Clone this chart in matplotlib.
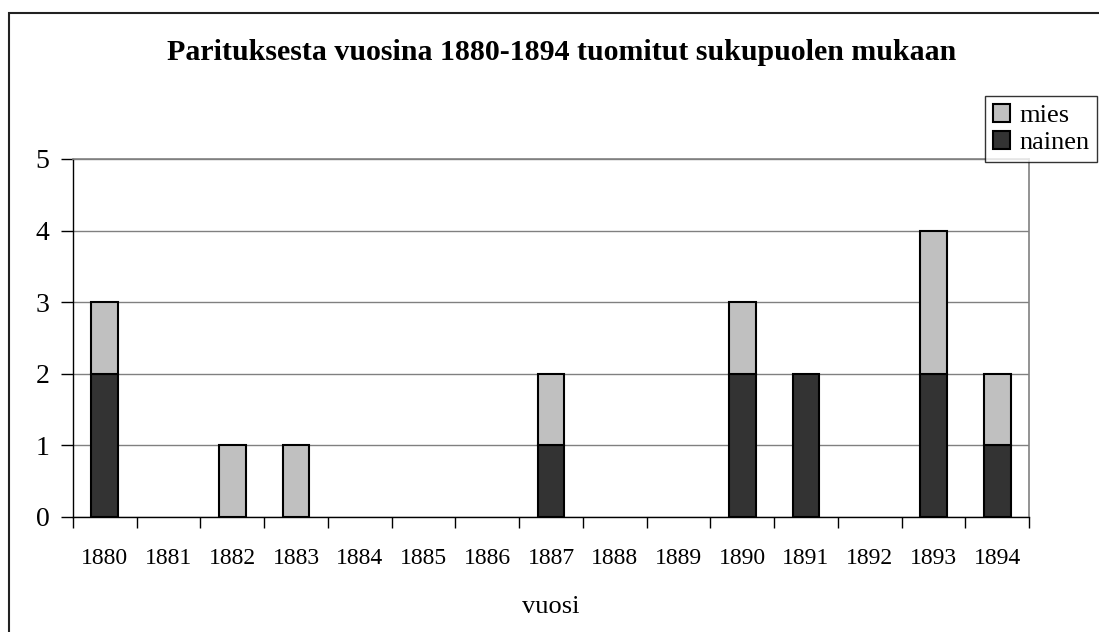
import numpy as np
import matplotlib
matplotlib.use('Agg')
import matplotlib.pyplot as plt
from matplotlib.patches import Rectangle

years = ['1880', '1881', '1882', '1883', '1884', '1885', '1886', '1887',
         '1888', '1889', '1890', '1891', '1892', '1893', '1894']
nainen = [2, 0, 0, 0, 0, 0, 0, 1, 0, 0, 2, 2, 0, 2, 1]
mies = [1, 0, 1, 1, 0, 0, 0, 1, 0, 0, 1, 0, 0, 2, 1]

title = 'Parituksesta vuosina 1880-1894 tuomitut sukupuolen mukaan'

plt.rcParams['font.family'] = ['Liberation Serif', 'DejaVu Serif']

W, H = 1099, 632
fig = plt.figure(figsize=(W / 100, H / 100), dpi=100)
ax = fig.add_axes([73 / W, 1 - 517 / H, (1029 - 73) / W, (517 - 159) / H])

x = np.arange(len(years))
bw = 0.42
# zero-height bars get no outline
lw_n = [1.5 if v else 0 for v in nainen]
lw_m = [1.5 if v else 0 for v in mies]
b1 = ax.bar(x, nainen, bw, color='#333333', edgecolor='black', linewidth=lw_n, label='nainen', zorder=3)
b2 = ax.bar(x, mies, bw, bottom=nainen, color='#c0c0c0', edgecolor='black', linewidth=lw_m, label='mies', zorder=3)

ax.set_xlim(-0.5, len(years) - 0.5)
ax.set_ylim(0, 5)
ax.set_yticks(range(6))
ax.set_xticks(x)
ax.set_xticklabels(years)
ax.set_xticks(np.arange(-0.5, len(years), 1), minor=True)
ax.tick_params(axis='x', which='major', length=0, pad=22, labelsize=17)
ax.tick_params(axis='x', which='minor', length=8, width=1, direction='out', color='black')
ax.tick_params(axis='y', length=9, width=1, direction='out', labelsize=20, pad=8, color='black')

ax.grid(axis='y', color='#808080', linewidth=1, zorder=0)
ax.set_axisbelow(True)
for s in ['top', 'right']:
    ax.spines[s].set_color('#808080')
    ax.spines[s].set_linewidth(1.2)
for s in ['left', 'bottom']:
    ax.spines[s].set_color('black')
    ax.spines[s].set_linewidth(1)

fig.text(562 / W, 1 - 52 / H, title, ha='center', va='center', fontsize=21.5, fontweight='bold')
fig.text(551 / W, 1 - 607 / H, 'vuosi', ha='center', va='center', fontsize=19)

leg = fig.legend([b2, b1], ['mies', 'nainen'], loc='upper right',
                 bbox_to_anchor=(1097 / W, 1 - 96 / H), fontsize=19, frameon=True,
                 fancybox=False, shadow=False, handlelength=0.65, handleheight=0.65,
                 handletextpad=0.35, borderpad=0.3, labelspacing=0.15, borderaxespad=0)
leg.get_frame().set_edgecolor('black')
leg.get_frame().set_linewidth(1)

fig.patches.append(Rectangle((9 / W, -0.1), 1.2, 1 - 13 / H + 0.1, transform=fig.transFigure,
                             fill=False, edgecolor='#222222', linewidth=1.5))

fig.savefig('out.png', dpi=100)
